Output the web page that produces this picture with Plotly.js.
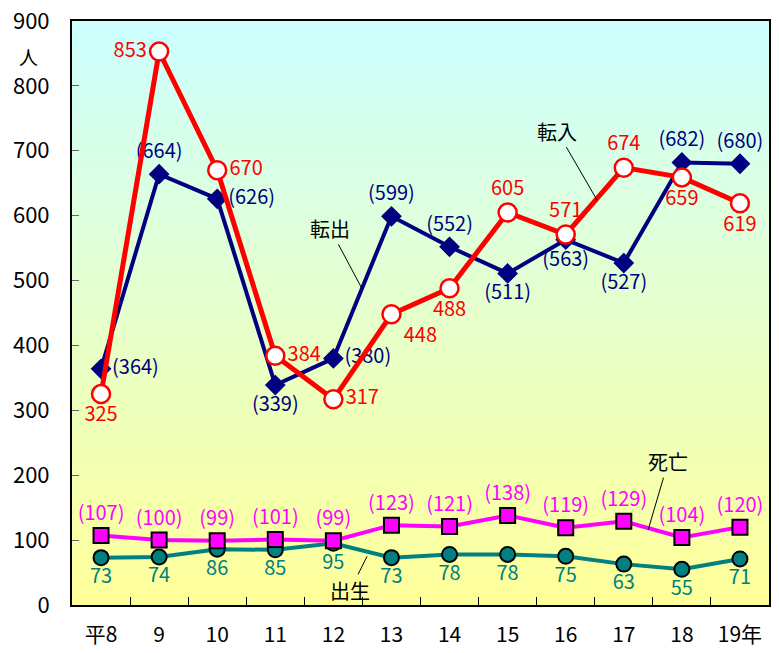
<!DOCTYPE html>
<html><head><meta charset="utf-8">
<script src="https://cdn.plot.ly/plotly-3.0.1.min.js"></script>
<style>body{margin:0;background:#fff}#c{width:779px;height:653px}</style>
</head><body><div id="c"></div>
<script>
const years = ["平8","9","10","11","12","13","14","15","16","17","18","19年"];
const tenyu = [325,853,670,384,317,448,488,605,571,674,659,619];   // 転入
const tenshutsu = [364,664,626,339,380,599,552,511,563,527,682,680]; // 転出
const shibou = [107,100,99,101,99,123,121,138,119,129,104,120];     // 死亡
const shussei = [73,74,86,85,95,73,78,78,75,63,55,71];              // 出生

const F = '"Noto Sans CJK JP", "DejaVu Sans", sans-serif';
const paren = v => "(" + v + ")";
const LS = 20;

const traces = [
  {x: years, y: shussei, mode: "lines+markers+text", name: "出生",
   line: {color: "#008080", width: 4},
   marker: {symbol: "circle", size: 15, color: "#008080", line: {color: "#000", width: 2}},
   text: shussei.map(String), textposition: "bottom center",
   textfont: {color: "#008080", size: LS, family: F}, cliponaxis: false, hoverinfo: "skip"},
  {x: years, y: shibou, mode: "lines+markers+text", name: "死亡",
   line: {color: "#ff00ff", width: 4},
   marker: {symbol: "square", size: 15, color: "#ff00ff", line: {color: "#000", width: 2}},
   text: shibou.map(paren), textposition: "top center",
   textfont: {color: "#ff00ff", size: LS, family: F}, cliponaxis: false, hoverinfo: "skip"},
  {x: years, y: tenshutsu, mode: "lines+markers+text", name: "転出",
   line: {color: "#000080", width: 4},
   marker: {symbol: "diamond", size: 16, color: "#000080"},
   text: tenshutsu.map(paren),
   textposition: ["middle right","top center","middle right","bottom center","middle right","top center","top center","bottom center","bottom center","bottom center","top center","top center"],
   textfont: {color: "#000080", size: LS, family: F}, cliponaxis: false, hoverinfo: "skip"},
  {x: years, y: tenyu, mode: "lines+markers+text", name: "転入",
   line: {color: "#ff0000", width: 5},
   marker: {symbol: "circle", size: 18, color: "#ffffff", line: {color: "#ff0000", width: 2.5}},
   text: tenyu.map(String),
   textposition: ["bottom center","middle left","middle right","middle right","middle right","bottom right","bottom center","top center","top center","top center","bottom center","bottom center"],
   textfont: {color: "#ff0000", size: LS, family: F}, cliponaxis: false, hoverinfo: "skip"}
];

const svg = '<svg xmlns="http://www.w3.org/2000/svg" width="100" height="100" preserveAspectRatio="none"><defs><linearGradient id="g" x1="0" y1="0" x2="0" y2="1"><stop offset="0" stop-color="#ccffff"/><stop offset="1" stop-color="#ffff99"/></linearGradient></defs><rect width="100" height="100" fill="url(#g)"/></svg>';
const bg = "data:image/svg+xml;base64," + btoa(svg);

const calloutFont = {family: F, size: 20, color: "#000"};
const layout = {
  width: 779, height: 653,
  margin: {l: 72, r: 10, t: 21, b: 48},
  paper_bgcolor: "#ffffff", plot_bgcolor: "rgba(0,0,0,0)",
  showlegend: false,
  font: {family: F, size: 21, color: "#000"},
  xaxis: {type: "category", range: [-0.5, 11.5], showgrid: false, zeroline: false,
    ticks: "inside", tickson: "boundaries", ticklen: 8, tickcolor: "#000",
    showline: true, linecolor: "#000", linewidth: 2, mirror: true,
    ticklabelstandoff: 10,
    tickfont: {family: F, size: 21}},
  yaxis: {range: [0, 900], dtick: 100, showgrid: false, zeroline: false,
    ticks: "inside", ticklen: 7, tickcolor: "#666",
    showline: true, linecolor: "#000", linewidth: 2, mirror: true,
    ticklabelstandoff: 16,
    tickfont: {family: F, size: 22}},
  images: [{source: bg, xref: "paper", yref: "paper", x: 0, y: 1, sizex: 1, sizey: 1,
    sizing: "stretch", layer: "below", xanchor: "left", yanchor: "top"}],
  annotations: [
    {text: "人", xref: "paper", yref: "paper", x: -0.063, y: 0.94, xanchor: "center", yanchor: "middle", showarrow: false, font: {family: F, size: 19}},
    {text: "転出", x: 4.49, y: 488, ax: -32, ay: -60, showarrow: true, arrowhead: 0, arrowwidth: 1, arrowcolor: "#000", font: calloutFont},
    {text: "転入", x: 8.54, y: 624, ax: -40, ay: -69, showarrow: true, arrowhead: 0, arrowwidth: 1, arrowcolor: "#000", font: calloutFont},
    {text: "死亡", x: 9.42, y: 116, ax: 20, ay: -68, showarrow: true, arrowhead: 0, arrowwidth: 1, arrowcolor: "#000", font: calloutFont},
    {text: "出生", x: 4.58, y: 75, ax: -17, ay: 34, showarrow: true, arrowhead: 0, arrowwidth: 1, arrowcolor: "#000", font: calloutFont}
  ]
};
Plotly.newPlot("c", traces, layout, {staticPlot: true});
</script></body></html>
